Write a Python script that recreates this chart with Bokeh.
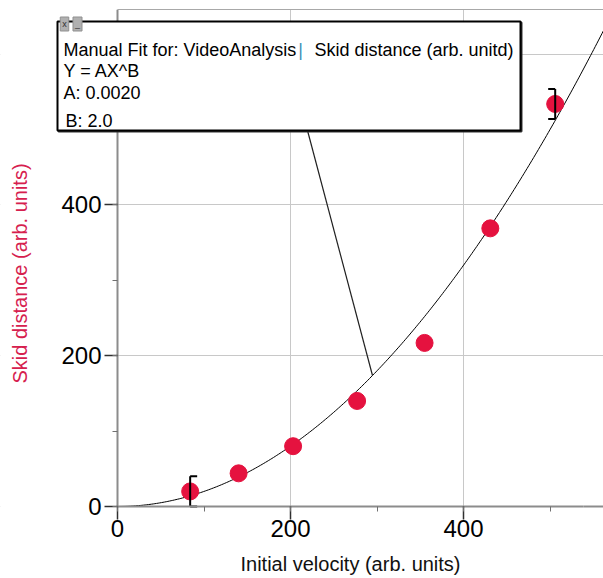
from bokeh.plotting import figure
from bokeh.models import (Range1d, SingleIntervalTicker, FixedTicker, Label, PolyAnnotation,
                          BoxAnnotation, ColumnDataSource, LinearAxis)
from bokeh.embed import file_html
from bokeh.resources import INLINE
import numpy as np

# ---- data ----
velocity = [84, 140, 203, 277, 355, 431, 506]
skid = [20, 44, 80, 140, 217, 369, 534]
err_index = [0, 6]
err_size = [20, 20]
err_dir = [1, -1]
fit_A = 0.0020
fit_B = 2.0
fit_title = "Manual Fit for: VideoAnalysis"
fit_series = "Skid distance (arb. unitd)"
fit_eq = "Y = AX^B"
x_label = "Initial velocity (arb. units)"
y_label = "Skid distance (arb. units)"

# ---- layout (page px -> data) ----
FONT = "Liberation Sans"
PXX = 0.865   # px per x unit
PXY = 0.7538  # px per y unit
X0P, Y0P = 117, 506  # page px of origin
W, H = 603, 578
TOP = 9
x_start = -X0P / PXX
x_end = (W - X0P) / PXX
y_start = -(H - Y0P) / PXY
y_end = (Y0P - TOP) / PXY

def dx(px):
    return (px - X0P) / PXX

def dy(py):
    return (Y0P - py) / PXY

AXIS_GRAY = "#8c8c8c"
x_ax_end = dx(583)   # axis bounds chosen so the axis titles sit centred as in the reference
y_ax_end = dy(40)

p = figure(width=W, height=H, x_range=Range1d(x_start, x_end), y_range=Range1d(y_start, y_end),
           output_backend="svg", toolbar_location=None,
           min_border_left=0, min_border_right=0, min_border_top=TOP, min_border_bottom=0)
p.background_fill_color = "white"
p.border_fill_color = "white"
p.outline_line_color = None

for ax in (p.xaxis[0], p.yaxis[0]):
    ax.ticker = SingleIntervalTicker(interval=200, num_minor_ticks=2)
    ax.axis_line_color = AXIS_GRAY
    ax.axis_line_width = 2
    ax.major_tick_line_color = "#303030"
    ax.major_tick_line_width = 1.5
    ax.major_tick_out = 13
    ax.major_tick_in = 0
    ax.minor_tick_line_color = "#707070"
    ax.minor_tick_out = 5
    ax.minor_tick_in = 0
    ax.major_label_text_font = FONT
    ax.major_label_text_font_size = "24px"
    ax.major_label_text_color = "#000000"
    ax.axis_label_text_font = FONT
    ax.axis_label_text_font_size = "20px"
    ax.axis_label_text_font_style = "normal"
    ax.fixed_location = 0

p.xaxis.axis_label = x_label
p.xaxis.axis_label_text_color = "#111111"
p.xaxis.major_label_standoff = 0
p.xaxis.axis_label_standoff = 13
p.xaxis.bounds = (0, x_ax_end)
p.yaxis.axis_label = y_label
p.yaxis.axis_label_text_color = "#d6204e"
p.yaxis.major_label_standoff = 3
p.yaxis.axis_label_standoff = 27
p.yaxis.bounds = (0, y_ax_end)

# top frame line
top_axis = LinearAxis(bounds=(0, x_end), ticker=FixedTicker(ticks=[]),
                      axis_line_color="#a8a8a8", axis_line_width=1,
                      major_tick_line_color=None, minor_tick_line_color=None,
                      major_tick_out=0, minor_tick_out=0, major_label_standoff=0)
p.add_layout(top_axis, "above")

p.xgrid.grid_line_color = "#c8c8c8"
p.ygrid.grid_line_color = "#c8c8c8"
# hide grid outside the quadrant of the axes
p.add_layout(BoxAnnotation(right=0, fill_color="white", fill_alpha=1.0, line_color=None,
                           level="underlay"))
p.add_layout(BoxAnnotation(top=0, fill_color="white", fill_alpha=1.0, line_color=None,
                           level="underlay"))

# axis line continuations beyond the axis bounds
p.segment(x0=[x_ax_end, 0], y0=[0, y_ax_end], x1=[x_end, 0], y1=[0, y_end],
          line_color=AXIS_GRAY, line_width=2)

# fit curve
xc = np.linspace(0, x_end, 300)
p.line(xc, fit_A * xc ** fit_B, line_color="black", line_width=1)

# leader line from fit box to curve
lead_x = dx(372)
p.segment(x0=[dx(307)], y0=[dy(130)], x1=[lead_x], y1=[fit_A * lead_x ** fit_B],
          line_color="#202020", line_width=1.2)

# data points
src = ColumnDataSource(dict(x=velocity, y=skid))
p.scatter("x", "y", source=src, size=17, fill_color="#e5123f", line_color="#e5123f")

# error brackets
tick = 7 / PXX
ex = [velocity[i] for i in err_index]
ey = [skid[i] for i in err_index]
p.segment(x0=ex, y0=[y - e for y, e in zip(ey, err_size)], x1=ex,
          y1=[y + e for y, e in zip(ey, err_size)], line_color="black", line_width=2)
for sgn in (1, -1):
    yy = [y + sgn * e for y, e in zip(ey, err_size)]
    p.segment(x0=ex, y0=yy, x1=[x + d * tick for x, d in zip(ex, err_dir)], y1=yy,
              line_color="black", line_width=2)

# fit box (with a slight shadow on the lower/right edges)
bx = [dx(57), dx(520), dx(520), dx(57)]
by = [dy(21), dy(21), dy(130), dy(130)]
sx = [dx(58), dx(521), dx(521), dx(58)]
sy = [dy(22), dy(22), dy(131), dy(131)]
p.add_layout(PolyAnnotation(xs=sx, ys=sy, xs_units="data", ys_units="data",
                            fill_color="#303030", fill_alpha=1.0,
                            line_color="#303030", line_alpha=1.0, line_width=2))
p.add_layout(PolyAnnotation(xs=bx, ys=by, xs_units="data", ys_units="data",
                            fill_color="white", fill_alpha=1.0,
                            line_color="black", line_alpha=1.0, line_width=2))

def lab(text, x, y, align="left", color="black", size="18px"):
    p.add_layout(Label(x=x, y=y, text=text, text_font=FONT, text_font_size=size,
                       text_color=color, text_align=align, text_baseline="alphabetic"))

lab(fit_title, dx(63), dy(49))
lab("|", dx(300), dy(49), align="center", color="#3a90b8")
lab(fit_series, dx(513), dy(49), align="right")
lab(fit_eq, dx(63), dy(70))
lab(f"A: {fit_A:.4f}", dx(63), dy(92))
lab(f"B: {fit_B:.1f}", dx(65), dy(120))

# small window icons
for cx, t in ((64, "x"), (77, "_")):
    p.add_layout(Label(x=dx(cx), y=dy(23.5), text=t, text_font=FONT, text_font_size="9px",
                       text_align="center", text_baseline="middle", text_color="#303030",
                       background_fill_color="#b0b0b0", border_line_color="#909090",
                       padding=2))

open("out.html", "w").write(file_html(p, INLINE))
